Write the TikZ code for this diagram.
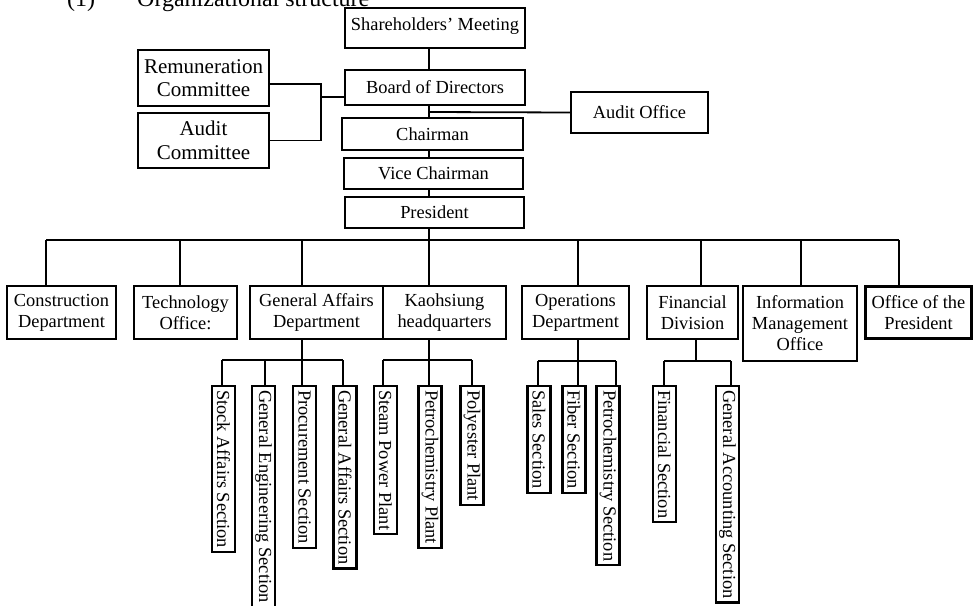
\documentclass[tikz,border=0pt]{standalone}
\usepackage{fontspec}
\setmainfont{Liberation Serif}
\begin{document}
\begin{tikzpicture}[x=1pt,y=-1pt,
  box/.style={draw, line width=2.2pt, align=center, inner sep=1pt,
    font=\fontsize{18.4}{21}\selectfont},
  bigbox/.style={box, font=\fontsize{21}{23.5}\selectfont},
  vbox/.style={draw, line width=2.2pt, rotate=-90, anchor=west, inner xsep=4pt,
    inner ysep=0pt, minimum height=23pt, font=\fontsize{18.4}{21}\selectfont},
  conn/.style={line width=1.8pt}]
\clip (0,0) rectangle (973,605);
\useasboundingbox (0,0) rectangle (973,605);

% title
\node[anchor=base west, inner sep=0pt, font=\fontsize{24}{28}\selectfont] (title) at (67,6)
  {(1)\hspace{42pt}Organizational structure};

% top chain
\node[box, minimum width=180pt, minimum height=40pt, text depth=8pt] (sh) at (435,28) {Shareholders' Meeting};
\node[box, minimum width=180pt, minimum height=35pt] (bod) at (435,87.5) {Board of Directors};
\node[box, minimum width=181pt, minimum height=32pt] (ch) at (432.5,134) {Chairman};
\node[box, minimum width=179pt, minimum height=31pt] (vc) at (433.5,173.5) {Vice Chairman};
\node[box, minimum width=179pt, minimum height=31pt] (pr) at (434.5,212.5) {President};
\node[box, minimum width=137pt, minimum height=41pt] (ao) at (639.5,112.5) {Audit Office};
\node[bigbox, minimum width=131pt, minimum height=56pt] (rc) at (203.5,78) {Remuneration\\Committee};
\node[bigbox, minimum width=131pt, minimum height=55pt] (ac) at (203.5,140.5) {Audit\\Committee};

% middle row
\node[box, minimum width=109pt, minimum height=53pt] (cd) at (61.5,312.5) {Construction\\Department};
\node[box, minimum width=103pt, minimum height=53pt] (to) at (185.5,312.5) {Technology\\Office:};
\node[box, minimum width=133pt, minimum height=53pt] (ga) at (316.5,312.5) {General Affairs\\Department};
\node[box, minimum width=123pt, minimum height=53pt] (kh) at (444.5,312.5) {Kaohsiung\\headquarters};
\node[box, minimum width=107pt, minimum height=53pt] (od) at (575.5,312.5) {Operations\\Department};
\node[box, minimum width=91pt, minimum height=53pt] (fd) at (692.5,312.5) {Financial\\Division};
\node[box, minimum width=114pt, minimum height=75pt] (im) at (800,323.5) {Information\\Management\\Office};
\node[box, minimum width=106pt, minimum height=52pt] (op) at (918.5,312.5) {Office of the\\President};

% vertical boxes
\node[vbox] (s1) at (223.5,385) {Stock Affairs Section};
\node[vbox] (s2) at (263.5,385) {General Engineering Section};
\node[vbox] (s3) at (304.5,385) {Procurement Section};
\node[vbox] (s4) at (345,385) {General Affairs Section};
\node[vbox] (k1) at (385.5,385) {Steam Power Plant};
\node[vbox] (k2) at (430,385) {Petrochemistry Plant};
\node[vbox] (k3) at (472,385) {Polyester Plant};
\node[vbox] (o1) at (539,385) {Sales Section};
\node[vbox] (o2) at (574,385) {Fiber Section};
\node[vbox] (o3) at (608,385) {Petrochemistry Section};
\node[vbox] (f1) at (664.5,385) {Financial Section};
\node[vbox] (f2) at (727.5,385) {General Accounting Section};

% coordinates
\coordinate (tx) at (429,240);
\coordinate (ax) at (429,112);
\coordinate (cm) at (321,97);
\coordinate (d1) at (46,240);
\coordinate (d2) at (180,240);
\coordinate (d3) at (302,240);
\coordinate (d5) at (578,240);
\coordinate (d6) at (701,240);
\coordinate (d7) at (801,240);
\coordinate (d8) at (899,240);
\coordinate (g1) at (222,360);
\coordinate (g2) at (265,360);
\coordinate (g3) at (302,360);
\coordinate (g4) at (343,360);
\coordinate (h1) at (383,360);
\coordinate (h2) at (429,360);
\coordinate (h3) at (472,360);
\coordinate (q1) at (538,361);
\coordinate (q2) at (578,361);
\coordinate (q3) at (616,361);
\coordinate (r1) at (664,361);
\coordinate (r2) at (696,361);
\coordinate (r3) at (731,361);

% top connectors
\draw[conn] (sh.south -| tx) -- (bod.north -| tx);
\draw[conn] (bod.south -| tx) -- (ch.north -| tx);
\draw[conn] (ax) -- (ao.west);
\draw[conn] (ch.south -| tx) -- (vc.north -| tx);
\draw[conn] (vc.south -| tx) -- (pr.north -| tx);
\draw[conn] (pr.south -| tx) -- (kh.north -| tx);
\draw[conn] ([yshift=-6pt]rc.east) -| (cm |- ac.east) -- (ac.east);
\draw[conn] (cm) -- (bod.west |- cm);

% bus
\draw[conn] (d1) -- (d8);
\draw[conn] (d1) -- (cd.north -| d1);
\draw[conn] (d2) -- (to.north -| d2);
\draw[conn] (d3) -- (ga.north -| d3);
\draw[conn] (d5) -- (od.north -| d5);
\draw[conn] (d6) -- (fd.north -| d6);
\draw[conn] (d7) -- (im.north -| d7);
\draw[conn] (d8) -- (op.north -| d8);

% general affairs subs
\draw[conn] (ga.south -| g3) -- (s3.west -| g3);
\draw[conn] (g1) -- (g4);
\draw[conn] (g1) -- (s1.west -| g1);
\draw[conn] (g2) -- (s2.west -| g2);
\draw[conn] (g4) -- (s4.west -| g4);

% kaohsiung subs
\draw[conn] (kh.south -| h2) -- (k2.west -| h2);
\draw[conn] (h1) -- (h3);
\draw[conn] (h1) -- (k1.west -| h1);
\draw[conn] (h3) -- (k3.west -| h3);

% operations subs
\draw[conn] (od.south -| q2) -- (o2.west -| q2);
\draw[conn] (q1) -- (q3);
\draw[conn] (q1) -- (o1.west -| q1);
\draw[conn] (q3) -- (o3.west -| q3);

% financial subs
\draw[conn] (fd.south -| r2) -- (r2);
\draw[conn] (r1) -- (r3);
\draw[conn] (r1) -- (f1.west -| r1);
\draw[conn] (r3) -- (f2.west -| r3);
\end{tikzpicture}
\end{document}
